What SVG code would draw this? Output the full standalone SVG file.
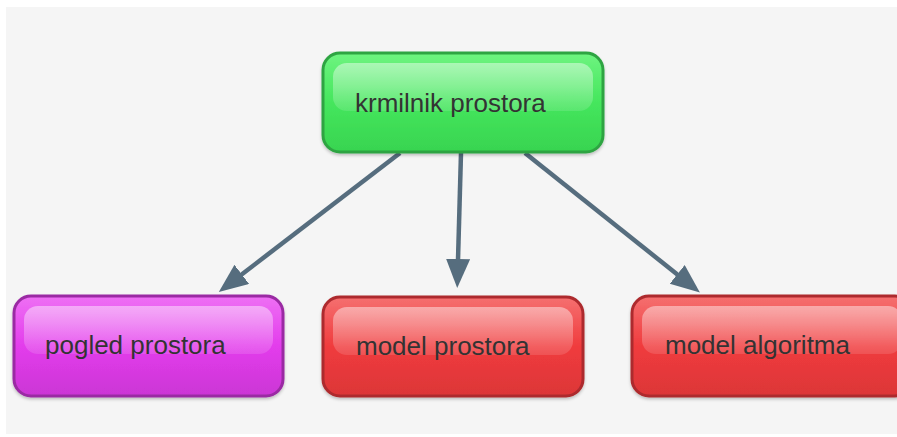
<svg xmlns="http://www.w3.org/2000/svg" width="897" height="437" viewBox="0 0 897 437">
<defs>
<style>
.lbl{font-family:"Liberation Sans",Arial,sans-serif;font-size:26px;fill:#333;}
.conn{stroke:#566d7e;stroke-width:4.5;fill:none;marker-end:url(#ah);}
.gloss{fill:url(#gl);}
</style>
<linearGradient id="gG" x1="0" y1="0" x2="0" y2="1">
<stop offset="0" stop-color="#6ef480"/><stop offset="0.5" stop-color="#45e65d"/><stop offset="1" stop-color="#38d450"/>
</linearGradient>
<linearGradient id="gP" x1="0" y1="0" x2="0" y2="1">
<stop offset="0" stop-color="#ee70f4"/><stop offset="0.5" stop-color="#e33cec"/><stop offset="1" stop-color="#cb36d5"/>
</linearGradient>
<linearGradient id="gR" x1="0" y1="0" x2="0" y2="1">
<stop offset="0" stop-color="#f57070"/><stop offset="0.5" stop-color="#f03b3d"/><stop offset="1" stop-color="#dc3638"/>
</linearGradient>
<linearGradient id="gl" x1="0" y1="0" x2="0" y2="1">
<stop offset="0" stop-color="#fff" stop-opacity="0.45"/><stop offset="1" stop-color="#fff" stop-opacity="0.12"/>
</linearGradient>
<filter id="sh" x="-5%" y="-5%" width="110%" height="120%">
<feDropShadow dx="0" dy="2" stdDeviation="1.5" flood-color="#000" flood-opacity="0.22"/>
</filter>
<marker id="ah" markerUnits="userSpaceOnUse" markerWidth="30" markerHeight="26" refX="1" refY="12" orient="auto">
<path d="M0,0 L29,12 L0,24 z" fill="#566d7e"/>
</marker>
</defs>
<rect width="897" height="437" fill="#fff"/>
<rect x="6" y="7" width="891" height="427" fill="#f5f5f5"/>
<g id="connectors">
<line class="conn" x1="400" y1="153" x2="241" y2="275"/>
<line class="conn" x1="461" y1="153" x2="458" y2="260"/>
<line class="conn" x1="525" y1="153" x2="678" y2="275"/>
</g>
<g id="krmilnik">
<rect x="323" y="53" width="280" height="99" rx="17" fill="url(#gG)" stroke="#2fa443" stroke-width="3" filter="url(#sh)"/>
<rect x="333" y="63" width="260" height="48" rx="14" class="gloss"/>
<text class="lbl" x="355" y="112">krmilnik prostora</text>
</g>
<g id="pogled">
<rect x="14" y="296" width="269" height="100" rx="17" fill="url(#gP)" stroke="#9a2ba3" stroke-width="3" filter="url(#sh)"/>
<rect x="24" y="306" width="249" height="48" rx="14" class="gloss"/>
<text class="lbl" x="45" y="354">pogled prostora</text>
</g>
<g id="model-prostora">
<rect x="323" y="297" width="260" height="99" rx="17" fill="url(#gR)" stroke="#ad2b2d" stroke-width="3" filter="url(#sh)"/>
<rect x="333" y="307" width="240" height="48" rx="14" class="gloss"/>
<text class="lbl" x="356" y="355">model prostora</text>
</g>
<g id="model-algoritma">
<rect x="632" y="296" width="280" height="100" rx="17" fill="url(#gR)" stroke="#ad2b2d" stroke-width="3" filter="url(#sh)"/>
<rect x="642" y="306" width="260" height="48" rx="14" class="gloss"/>
<text class="lbl" x="665" y="354">model algoritma</text>
</g>
</svg>
